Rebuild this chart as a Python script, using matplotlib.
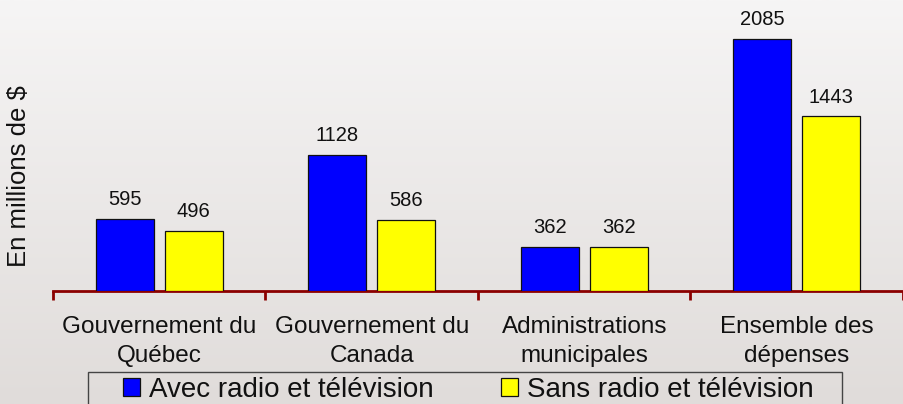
import numpy as np
import matplotlib.pyplot as plt
from matplotlib.patches import Patch, Rectangle

plt.rcParams['font.family'] = ['Liberation Sans', 'DejaVu Sans']

categories = ["Gouvernement du\nQuébec", "Gouvernement du\nCanada",
              "Administrations\nmunicipales", "Ensemble des\ndépenses"]
avec_radio = [595, 1128, 362, 2085]
sans_radio = [496, 586, 362, 1443]
series_names = ["Avec radio et télévision", "Sans radio et télévision"]

W, H = 904, 404
fig = plt.figure(figsize=(W / 100, H / 100), dpi=100)

# gradient background
bg = fig.add_axes([0, 0, 1, 1], zorder=-10)
top = np.array([246, 245, 245]) / 255
bot = np.array([224, 220, 218]) / 255
t = np.linspace(0, 1, 256)[:, None]
grad = top[None, :] * (1 - t) + bot[None, :] * t
bg.imshow(grad[:, None, :], aspect='auto', extent=[0, 1, 0, 1])
bg.axis('off')

ax = fig.add_axes([53 / W, (H - 291) / H, 850 / W, 291 / H])
ax.patch.set_alpha(0)

x = np.arange(len(categories))
bw = 0.272
off = 0.162
b1 = ax.bar(x - off, avec_radio, bw, color='#0000ff', edgecolor='#111111', linewidth=0.9, zorder=3)
b2 = ax.bar(x + off, sans_radio, bw, color='#ffff00', edgecolor='#111111', linewidth=0.9, zorder=3)

for bars, vals in ((b1, avec_radio), (b2, sans_radio)):
    for rect, v in zip(bars, vals):
        ax.annotate(str(v), (rect.get_x() + rect.get_width() / 2, v),
                    xytext=(0, 7), textcoords='offset points',
                    ha='center', va='bottom', fontsize=14.5, color='#111111')

ax.set_xlim(-0.5, 3.5)
ax.set_ylim(0, 2405)
for s in ('top', 'right', 'left'):
    ax.spines[s].set_visible(False)
ax.spines['bottom'].set_color('#8b0000')
ax.spines['bottom'].set_linewidth(2.0)
ax.set_yticks([])
ax.set_xticks(np.arange(-0.5, 4, 1))
ax.set_xticklabels([])
ax.tick_params(axis='x', which='major', direction='out', length=6.5, width=2.0, color='#8b0000')
ax.set_xticks(x, minor=True)
ax.set_xticklabels(categories, minor=True, fontsize=17.5, color='#111111', linespacing=1.4)
ax.tick_params(axis='x', which='minor', length=0, pad=18)

fig.text(19 / W, 1 - 176 / H, "En millions de $", rotation=90, ha='center', va='center',
         fontsize=18.5, color='#111111')

# legend
handles = [Patch(facecolor='#0000ff', edgecolor='#111111', linewidth=0.9),
           Patch(facecolor='#ffff00', edgecolor='#111111', linewidth=0.9)]
fig.legend(handles, series_names, loc='center left', bbox_to_anchor=(123 / W, 1 - 390 / H),
           ncol=2, frameon=False, fontsize=20, handlelength=0.62, handleheight=0.6,
           handletextpad=0.3, columnspacing=2.45, borderpad=0, borderaxespad=0,
           labelcolor='#111111')
fig.patches.append(Rectangle((88 / W, -0.05), (842 - 88) / W, 0.05 + (H - 372) / H,
                             transform=fig.transFigure, fill=False, edgecolor='#444444',
                             linewidth=1.0))

fig.savefig('out.png', dpi=100)
